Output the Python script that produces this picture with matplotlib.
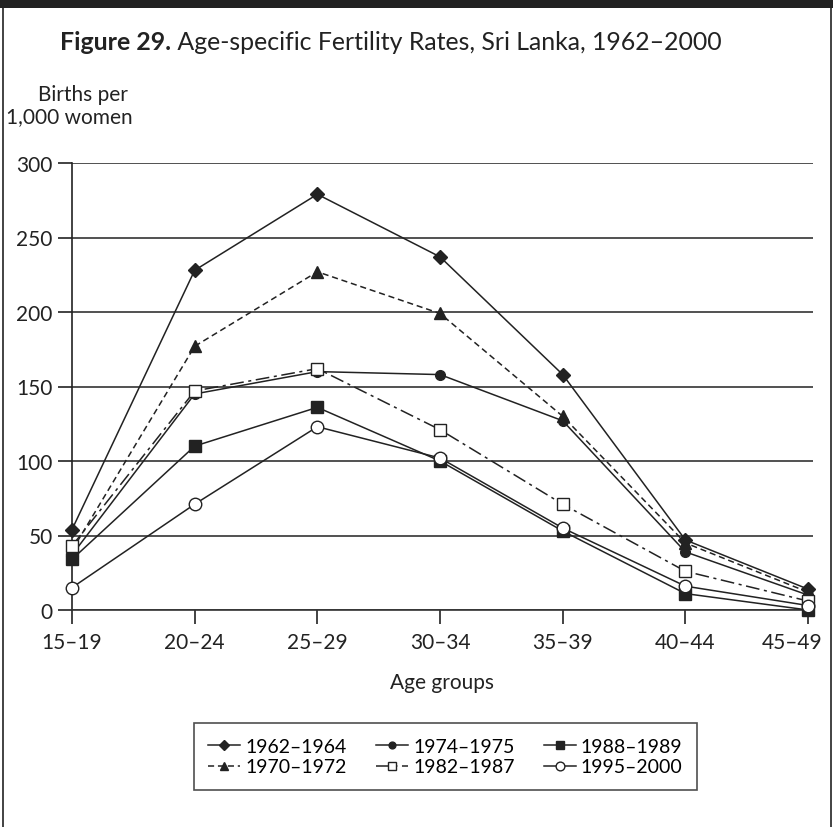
import numpy as np
import matplotlib.pyplot as plt
from matplotlib.patches import Rectangle
from matplotlib.transforms import ScaledTranslation

plt.rcParams['font.family'] = ['Lato', 'DejaVu Sans']

age_groups = ["15–19", "20–24", "25–29", "30–34", "35–39", "40–44", "45–49"]

r1962 = [54, 228, 279, 237, 158, 47, 14]
r1970 = [40, 177, 227, 199, 130, 45, 12]
r1974 = [37, 145, 160, 158, 127, 39, 10]
r1982 = [43, 147, 162, 121, 71, 26, 6]
r1988 = [34, 110, 136, 100, 53, 11, 0]
r1995 = [15, 71, 123, 102, 55, 16, 3]

labels = ["1962–1964", "1970–1972", "1974–1975", "1982–1987", "1988–1989", "1995–2000"]

ink = "#222222"
W, H = 833, 828

fig = plt.figure(figsize=(W / 100, H / 100), dpi=100)
renderer = fig.canvas.get_renderer()


def px(x, y):
    return x / W, 1 - y / H


def fit_text(t, width):
    # scale font so the text spans the given pixel width
    w = t.get_window_extent(renderer).width
    t.set_fontsize(t.get_fontsize() * width / w)
    return t


# frame: dark bar on top, thin lines on the sides
fig.patches.append(Rectangle((0, 1 - 9 / H), 1, 9 / H, transform=fig.transFigure,
                             facecolor=ink, edgecolor="none"))
fig.add_artist(plt.Line2D([3 / W, 3 / W], [0, 1], transform=fig.transFigure, color=ink, lw=1.2))
fig.add_artist(plt.Line2D([830.5 / W, 830.5 / W], [0, 1], transform=fig.transFigure, color=ink, lw=1.2))

ax = fig.add_axes([72 / W, 217 / H, 741 / W, 447 / H])

x = np.arange(len(age_groups))

styles = [
    (r1962, "-", "D", 7, ink),
    (r1970, (0, (4, 2.5)), "^", 8, ink),
    (r1974, "-", "o", 7, ink),
    (r1982, (0, (9, 3, 2, 3)), "s", 9, "white"),
    (r1988, "-", "s", 8, ink),
    (r1995, "-", "o", 9, "white"),
]

for (vals, ls, mk, ms, fc), lab in zip(styles, labels):
    ax.plot(x, vals, linestyle=ls, color=ink, lw=1.1, marker=mk, markersize=ms,
            markerfacecolor=fc, markeredgecolor=ink, markeredgewidth=1.0,
            label=lab, clip_on=False, zorder=3)

ax.set_xlim(0, 6.04)
ax.set_ylim(0, 300)
ax.set_yticks(range(0, 301, 50))
ax.set_xticks(x)
ax.set_xticklabels(age_groups)
ax.yaxis.grid(True, color="#333333", lw=1.2)
ax.set_axisbelow(True)
for s in ["top", "right"]:
    ax.spines[s].set_visible(False)
ax.spines["left"].set_color(ink)
ax.spines["bottom"].set_color("#333333")
ax.spines["left"].set_linewidth(1.2)
ax.spines["bottom"].set_linewidth(1.2)
ax.tick_params(axis="both", direction="out", length=10, width=1.2, color=ink,
               labelsize=15, labelcolor=ink)
ax.tick_params(axis="x", pad=6)
ax.tick_params(axis="y", pad=4)

# last age label sits a little left of its tick so it stays inside the frame
last = ax.get_xticklabels()[-1]
last.set_transform(last.get_transform() + ScaledTranslation(-16 / 100, 0, fig.dpi_scale_trans))

ax.set_xlabel("Age groups", fontsize=15, color=ink, labelpad=14.5)

# title: bold figure number, then the plain text right after it
t1 = fig.text(*px(60, 42), "Figure 29.", fontsize=18, fontweight="bold",
              color=ink, va="center", ha="left")
t2 = fig.text(*px(60, 42), " Age-specific Fertility Rates, Sri Lanka, 1962–2000",
              fontsize=18, color=ink, va="center", ha="left")
total = t1.get_window_extent(renderer).width + t2.get_window_extent(renderer).width
scale = 662 / total
t1.set_fontsize(18 * scale)
t2.set_fontsize(18 * scale)
w1 = t1.get_window_extent(renderer).width
t2.set_position(px(60 + w1, 42))

fit_text(fig.text(*px(6, 117), "1,000 women", fontsize=15, color=ink,
                  va="center", ha="left"), 127)
b = fig.text(*px(38, 95), "Births per", fontsize=15, color=ink, va="center", ha="left")

leg = fig.legend(loc="center", bbox_to_anchor=px(445.5, 757.5), ncol=3,
                 fontsize=14, frameon=True, fancybox=False, edgecolor=ink,
                 handlelength=1.65, handletextpad=0.26, columnspacing=1.5,
                 labelspacing=0.2, borderpad=0.75, markerscale=0.7)
leg.get_frame().set_linewidth(1.2)

fig.savefig("out.png", dpi=100)
